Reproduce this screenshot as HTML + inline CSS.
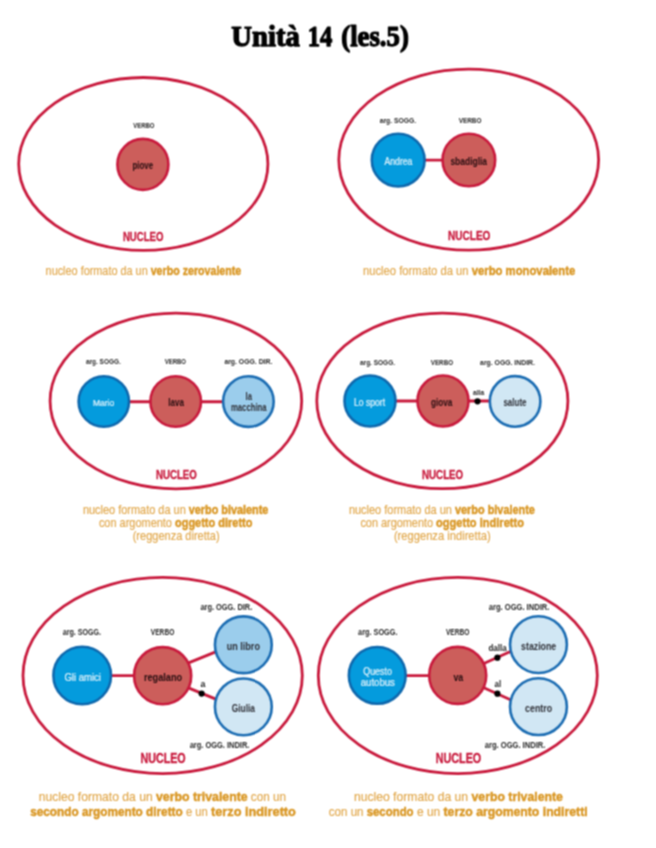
<!DOCTYPE html>
<html lang="it"><head><meta charset="utf-8"><title>Unità 14 (les.5)</title>
<style>
html,body{margin:0;padding:0;background:#fff;}
body{width:656px;height:848px;overflow:hidden;}
svg{display:block;}
</style></head><body>
<svg width="656" height="848" viewBox="0 0 656 848">
<defs><filter id="soft" filterUnits="userSpaceOnUse" x="0" y="0" width="656" height="848" color-interpolation-filters="sRGB"><feConvolveMatrix order="3" kernelMatrix="1 2 1 2 4 2 1 2 1" edgeMode="duplicate"/></filter></defs>
<g filter="url(#soft)">
<rect width="656" height="848" fill="#fff"/>
<text x="231.3" y="45.6" font-family="'Liberation Serif', 'Times New Roman', serif" font-size="28.5" font-weight="bold" fill="#000" textLength="68.5" lengthAdjust="spacingAndGlyphs" stroke="#000" stroke-width="1.25" stroke-linejoin="round">Unità</text>
<text x="307.8" y="45.6" font-family="'Liberation Serif', 'Times New Roman', serif" font-size="28.5" font-weight="bold" fill="#000" textLength="24.5" lengthAdjust="spacingAndGlyphs" stroke="#000" stroke-width="1.25" stroke-linejoin="round">14</text>
<text x="341.3" y="45.6" font-family="'Liberation Serif', 'Times New Roman', serif" font-size="28.5" font-weight="bold" fill="#000" textLength="67.5" lengthAdjust="spacingAndGlyphs" stroke="#000" stroke-width="1.25" stroke-linejoin="round">(les.5)</text>
<ellipse cx="143.3" cy="163.95" rx="124.6" ry="86.45" fill="none" stroke="#c8193c" stroke-width="2.8"/>
<circle cx="142.9" cy="164.4" r="25.50" fill="#cc5e5b" stroke="#c8193c" stroke-width="2.6"/>
<text x="133.2" y="128.0" font-family="'Liberation Sans', Arial, sans-serif" font-size="7.6" font-weight="bold" fill="#262626" textLength="21.3" lengthAdjust="spacingAndGlyphs">VERBO</text>
<text x="132.4" y="169.3" font-family="'Liberation Sans', Arial, sans-serif" font-size="10.2" font-weight="bold" fill="#230c0f" textLength="20.8" lengthAdjust="spacingAndGlyphs">piove</text>
<text x="122.9" y="240.5" font-family="'Liberation Sans', Arial, sans-serif" font-size="12.8" font-weight="bold" fill="#c8193c" textLength="40.5" lengthAdjust="spacingAndGlyphs" stroke="#c8193c" stroke-width="0.35">NUCLEO</text>
<ellipse cx="468.7" cy="159.7" rx="129.9" ry="90.5" fill="none" stroke="#c8193c" stroke-width="2.8"/>
<line x1="398.2" y1="160.1" x2="468.8" y2="160.1" stroke="#c8193c" stroke-width="2.9"/>
<circle cx="398.2" cy="160.1" r="26.40" fill="#049bdd" stroke="#0e68ad" stroke-width="2.6"/>
<circle cx="468.85" cy="160.0" r="26.30" fill="#cc5e5b" stroke="#c8193c" stroke-width="2.6"/>
<text x="379.7" y="122.6" font-family="'Liberation Sans', Arial, sans-serif" font-size="7.6" font-weight="bold" fill="#262626" textLength="36.4" lengthAdjust="spacingAndGlyphs">arg. SOGG.</text>
<text x="458.7" y="122.6" font-family="'Liberation Sans', Arial, sans-serif" font-size="7.6" font-weight="bold" fill="#262626" textLength="22.8" lengthAdjust="spacingAndGlyphs">VERBO</text>
<text x="384.6" y="164.6" font-family="'Liberation Sans', Arial, sans-serif" font-size="10.2" font-weight="normal" fill="#eaf6fc" textLength="27.7" lengthAdjust="spacingAndGlyphs" stroke="#eaf6fc" stroke-width="0.2">Andrea</text>
<text x="450.4" y="164.6" font-family="'Liberation Sans', Arial, sans-serif" font-size="10.2" font-weight="bold" fill="#230c0f" textLength="36.7" lengthAdjust="spacingAndGlyphs">sbadiglia</text>
<text x="448.0" y="240.4" font-family="'Liberation Sans', Arial, sans-serif" font-size="12.8" font-weight="bold" fill="#c8193c" textLength="42.4" lengthAdjust="spacingAndGlyphs" stroke="#c8193c" stroke-width="0.35">NUCLEO</text>
<ellipse cx="175.9" cy="401.0" rx="125.8" ry="87.8" fill="none" stroke="#c8193c" stroke-width="2.8"/>
<line x1="103.8" y1="401.8" x2="248.4" y2="401.8" stroke="#c8193c" stroke-width="2.9"/>
<circle cx="103.8" cy="401.5" r="25.20" fill="#049bdd" stroke="#0e68ad" stroke-width="2.6"/>
<circle cx="175.7" cy="401.5" r="25.30" fill="#cc5e5b" stroke="#c8193c" stroke-width="2.6"/>
<circle cx="248.4" cy="401.6" r="25.30" fill="#9bcdec" stroke="#1b6cb2" stroke-width="2.6"/>
<text x="86.0" y="364.4" font-family="'Liberation Sans', Arial, sans-serif" font-size="7.6" font-weight="bold" fill="#262626" textLength="34.7" lengthAdjust="spacingAndGlyphs">arg. SOGG.</text>
<text x="164.7" y="364.4" font-family="'Liberation Sans', Arial, sans-serif" font-size="7.6" font-weight="bold" fill="#262626" textLength="21.3" lengthAdjust="spacingAndGlyphs">VERBO</text>
<text x="224.4" y="364.4" font-family="'Liberation Sans', Arial, sans-serif" font-size="7.6" font-weight="bold" fill="#262626" textLength="48.0" lengthAdjust="spacingAndGlyphs">arg. OGG. DIR.</text>
<text x="93.0" y="405.8" font-family="'Liberation Sans', Arial, sans-serif" font-size="9.8" font-weight="normal" fill="#eaf6fc" textLength="21.2" lengthAdjust="spacingAndGlyphs" stroke="#eaf6fc" stroke-width="0.2">Mario</text>
<text x="168.3" y="405.8" font-family="'Liberation Sans', Arial, sans-serif" font-size="10.0" font-weight="bold" fill="#230c0f" textLength="15.7" lengthAdjust="spacingAndGlyphs">lava</text>
<text x="245.6" y="399.9" font-family="'Liberation Sans', Arial, sans-serif" font-size="10.2" font-weight="bold" fill="#2e2f36" textLength="6.4" lengthAdjust="spacingAndGlyphs">la</text>
<text x="231.0" y="411.3" font-family="'Liberation Sans', Arial, sans-serif" font-size="10.2" font-weight="bold" fill="#2e2f36" textLength="35.5" lengthAdjust="spacingAndGlyphs">macchina</text>
<text x="156.0" y="478.8" font-family="'Liberation Sans', Arial, sans-serif" font-size="12.8" font-weight="bold" fill="#c8193c" textLength="40.8" lengthAdjust="spacingAndGlyphs" stroke="#c8193c" stroke-width="0.35">NUCLEO</text>
<ellipse cx="442.35" cy="400.95" rx="125.55" ry="87.75" fill="none" stroke="#c8193c" stroke-width="2.8"/>
<line x1="370" y1="401.0" x2="515.1" y2="401.0" stroke="#c8193c" stroke-width="2.9"/>
<circle cx="370" cy="401.0" r="25.50" fill="#049bdd" stroke="#0e68ad" stroke-width="2.6"/>
<circle cx="443" cy="401.0" r="25.50" fill="#cc5e5b" stroke="#c8193c" stroke-width="2.6"/>
<circle cx="515.1" cy="401.4" r="25.30" fill="#d1e7f4" stroke="#1b6cb2" stroke-width="2.6"/>
<circle cx="477.5" cy="401.3" r="3.1" fill="#000"/>
<text x="360.0" y="364.6" font-family="'Liberation Sans', Arial, sans-serif" font-size="7.6" font-weight="bold" fill="#262626" textLength="35.0" lengthAdjust="spacingAndGlyphs">arg. SOGG.</text>
<text x="430.8" y="364.6" font-family="'Liberation Sans', Arial, sans-serif" font-size="7.6" font-weight="bold" fill="#262626" textLength="22.2" lengthAdjust="spacingAndGlyphs">VERBO</text>
<text x="480.1" y="364.6" font-family="'Liberation Sans', Arial, sans-serif" font-size="7.6" font-weight="bold" fill="#262626" textLength="54.8" lengthAdjust="spacingAndGlyphs">arg. OGG. INDIR.</text>
<text x="473.0" y="395.4" font-family="'Liberation Sans', Arial, sans-serif" font-size="7.2" font-weight="bold" fill="#1e1e1e" textLength="11.1" lengthAdjust="spacingAndGlyphs">alla</text>
<text x="354.0" y="405.8" font-family="'Liberation Sans', Arial, sans-serif" font-size="10.2" font-weight="normal" fill="#eaf6fc" textLength="31.1" lengthAdjust="spacingAndGlyphs" stroke="#eaf6fc" stroke-width="0.2">Lo sport</text>
<text x="431.0" y="405.8" font-family="'Liberation Sans', Arial, sans-serif" font-size="10.2" font-weight="bold" fill="#230c0f" textLength="21.4" lengthAdjust="spacingAndGlyphs">giova</text>
<text x="503.4" y="406.2" font-family="'Liberation Sans', Arial, sans-serif" font-size="10.2" font-weight="bold" fill="#2e2f36" textLength="23.2" lengthAdjust="spacingAndGlyphs">salute</text>
<text x="422.1" y="478.8" font-family="'Liberation Sans', Arial, sans-serif" font-size="12.8" font-weight="bold" fill="#c8193c" textLength="41.0" lengthAdjust="spacingAndGlyphs" stroke="#c8193c" stroke-width="0.35">NUCLEO</text>
<ellipse cx="162.65" cy="675.5" rx="139.65" ry="98.1" fill="none" stroke="#c8193c" stroke-width="2.8"/>
<line x1="82.2" y1="675.6" x2="162.65" y2="675.6" stroke="#c8193c" stroke-width="2.9"/>
<line x1="175" y1="668.3" x2="228" y2="646.8" stroke="#c8193c" stroke-width="2.9"/>
<line x1="175" y1="682.3" x2="228" y2="704.2" stroke="#c8193c" stroke-width="2.9"/>
<circle cx="82.2" cy="675.5" r="28.80" fill="#049bdd" stroke="#0e68ad" stroke-width="2.6"/>
<circle cx="162.65" cy="675.7" r="28.55" fill="#cc5e5b" stroke="#c8193c" stroke-width="2.6"/>
<circle cx="243.35" cy="644.75" r="28.40" fill="#9bcdec" stroke="#1b6cb2" stroke-width="2.6"/>
<circle cx="243.35" cy="706.85" r="28.40" fill="#d1e7f4" stroke="#1b6cb2" stroke-width="2.6"/>
<circle cx="201.6" cy="693.6" r="3.1" fill="#000"/>
<text x="62.8" y="634.6" font-family="'Liberation Sans', Arial, sans-serif" font-size="8.6" font-weight="bold" fill="#262626" textLength="38.1" lengthAdjust="spacingAndGlyphs">arg. SOGG.</text>
<text x="150.8" y="634.6" font-family="'Liberation Sans', Arial, sans-serif" font-size="8.6" font-weight="bold" fill="#262626" textLength="23.5" lengthAdjust="spacingAndGlyphs">VERBO</text>
<text x="200.4" y="609.7" font-family="'Liberation Sans', Arial, sans-serif" font-size="8.6" font-weight="bold" fill="#262626" textLength="51.9" lengthAdjust="spacingAndGlyphs">arg. OGG. DIR.</text>
<text x="189.7" y="747.6" font-family="'Liberation Sans', Arial, sans-serif" font-size="8.6" font-weight="bold" fill="#262626" textLength="59.7" lengthAdjust="spacingAndGlyphs">arg. OGG. INDIR.</text>
<text x="200.4" y="687.2" font-family="'Liberation Sans', Arial, sans-serif" font-size="8.8" font-weight="bold" fill="#1e1e1e">a</text>
<text x="64.4" y="680.7" font-family="'Liberation Sans', Arial, sans-serif" font-size="11.2" font-weight="normal" fill="#eaf6fc" textLength="36.6" lengthAdjust="spacingAndGlyphs" stroke="#eaf6fc" stroke-width="0.2">Gli amici</text>
<text x="143.9" y="681.1" font-family="'Liberation Sans', Arial, sans-serif" font-size="11.2" font-weight="bold" fill="#230c0f" textLength="38.2" lengthAdjust="spacingAndGlyphs">regalano</text>
<text x="226.8" y="650.4" font-family="'Liberation Sans', Arial, sans-serif" font-size="11.2" font-weight="bold" fill="#2e2f36" textLength="33.1" lengthAdjust="spacingAndGlyphs">un libro</text>
<text x="231.7" y="711.7" font-family="'Liberation Sans', Arial, sans-serif" font-size="11.2" font-weight="bold" fill="#2e2f36" textLength="23.3" lengthAdjust="spacingAndGlyphs">Giulia</text>
<text x="140.5" y="762.6" font-family="'Liberation Sans', Arial, sans-serif" font-size="13.9" font-weight="bold" fill="#c8193c" textLength="45.2" lengthAdjust="spacingAndGlyphs" stroke="#c8193c" stroke-width="0.35">NUCLEO</text>
<ellipse cx="457.8" cy="675.5" rx="139.5" ry="98.1" fill="none" stroke="#c8193c" stroke-width="2.8"/>
<line x1="377.25" y1="675.6" x2="457.7" y2="675.6" stroke="#c8193c" stroke-width="2.9"/>
<line x1="470" y1="669.8" x2="522" y2="646.3" stroke="#c8193c" stroke-width="2.9"/>
<line x1="470" y1="681.5" x2="522" y2="705.0" stroke="#c8193c" stroke-width="2.9"/>
<circle cx="377.25" cy="675.4" r="28.40" fill="#049bdd" stroke="#0e68ad" stroke-width="2.6"/>
<circle cx="457.7" cy="675.4" r="28.50" fill="#cc5e5b" stroke="#c8193c" stroke-width="2.6"/>
<circle cx="538.45" cy="644.6" r="28.40" fill="#d1e7f4" stroke="#1b6cb2" stroke-width="2.6"/>
<circle cx="538.45" cy="706.65" r="28.40" fill="#d1e7f4" stroke="#1b6cb2" stroke-width="2.6"/>
<circle cx="497.4" cy="657.7" r="3.1" fill="#000"/>
<circle cx="497.4" cy="693.7" r="3.1" fill="#000"/>
<text x="358.1" y="635.0" font-family="'Liberation Sans', Arial, sans-serif" font-size="8.6" font-weight="bold" fill="#262626" textLength="39.4" lengthAdjust="spacingAndGlyphs">arg. SOGG.</text>
<text x="445.9" y="635.0" font-family="'Liberation Sans', Arial, sans-serif" font-size="8.6" font-weight="bold" fill="#262626" textLength="23.6" lengthAdjust="spacingAndGlyphs">VERBO</text>
<text x="488.8" y="610.0" font-family="'Liberation Sans', Arial, sans-serif" font-size="8.6" font-weight="bold" fill="#262626" textLength="60.5" lengthAdjust="spacingAndGlyphs">arg. OGG. INDIR.</text>
<text x="484.8" y="747.6" font-family="'Liberation Sans', Arial, sans-serif" font-size="8.6" font-weight="bold" fill="#262626" textLength="60.5" lengthAdjust="spacingAndGlyphs">arg. OGG. INDIR.</text>
<text x="488.4" y="651.0" font-family="'Liberation Sans', Arial, sans-serif" font-size="8.6" font-weight="bold" fill="#1e1e1e" textLength="18.2" lengthAdjust="spacingAndGlyphs">dalla</text>
<text x="494.6" y="687.0" font-family="'Liberation Sans', Arial, sans-serif" font-size="8.6" font-weight="bold" fill="#1e1e1e" textLength="6.6" lengthAdjust="spacingAndGlyphs">al</text>
<text x="363.2" y="674.8" font-family="'Liberation Sans', Arial, sans-serif" font-size="11.2" font-weight="normal" fill="#eaf6fc" textLength="28.8" lengthAdjust="spacingAndGlyphs" stroke="#eaf6fc" stroke-width="0.2">Questo</text>
<text x="360.7" y="685.7" font-family="'Liberation Sans', Arial, sans-serif" font-size="11.2" font-weight="normal" fill="#eaf6fc" textLength="34.2" lengthAdjust="spacingAndGlyphs" stroke="#eaf6fc" stroke-width="0.2">autobus</text>
<text x="453.4" y="680.9" font-family="'Liberation Sans', Arial, sans-serif" font-size="11.2" font-weight="bold" fill="#230c0f" textLength="9.8" lengthAdjust="spacingAndGlyphs">va</text>
<text x="521.1" y="650.1" font-family="'Liberation Sans', Arial, sans-serif" font-size="11.2" font-weight="bold" fill="#2e2f36" textLength="35.1" lengthAdjust="spacingAndGlyphs">stazione</text>
<text x="525.1" y="712.2" font-family="'Liberation Sans', Arial, sans-serif" font-size="11.2" font-weight="bold" fill="#2e2f36" textLength="27.0" lengthAdjust="spacingAndGlyphs">centro</text>
<text x="435.8" y="762.6" font-family="'Liberation Sans', Arial, sans-serif" font-size="13.9" font-weight="bold" fill="#c8193c" textLength="45.4" lengthAdjust="spacingAndGlyphs" stroke="#c8193c" stroke-width="0.35">NUCLEO</text>
<text y="274.6" font-family="'Liberation Sans', Arial, sans-serif" font-size="12.4"><tspan x="45.6" fill="#e0a546" font-weight="normal" stroke="#e0a546" stroke-width="0.15" textLength="105.1" lengthAdjust="spacingAndGlyphs">nucleo formato da un </tspan><tspan x="150.7" fill="#d99622" font-weight="bold" stroke="#d99622" stroke-width="0.45" textLength="90.6" lengthAdjust="spacingAndGlyphs">verbo zerovalente</tspan></text>
<text y="275.2" font-family="'Liberation Sans', Arial, sans-serif" font-size="12.4"><tspan x="363.0" fill="#e0a546" font-weight="normal" stroke="#e0a546" stroke-width="0.15" textLength="108.7" lengthAdjust="spacingAndGlyphs">nucleo formato da un </tspan><tspan x="471.7" fill="#d99622" font-weight="bold" stroke="#d99622" stroke-width="0.45" textLength="103.6" lengthAdjust="spacingAndGlyphs">verbo monovalente</tspan></text>
<text y="514.0" font-family="'Liberation Sans', Arial, sans-serif" font-size="12.4"><tspan x="82.9" fill="#e0a546" font-weight="normal" stroke="#e0a546" stroke-width="0.15" textLength="105.9" lengthAdjust="spacingAndGlyphs">nucleo formato da un </tspan><tspan x="188.8" fill="#d99622" font-weight="bold" stroke="#d99622" stroke-width="0.45" textLength="79.6" lengthAdjust="spacingAndGlyphs">verbo bivalente</tspan></text>
<text y="527.2" font-family="'Liberation Sans', Arial, sans-serif" font-size="12.4"><tspan x="98.9" fill="#e0a546" font-weight="normal" stroke="#e0a546" stroke-width="0.15" textLength="76.1" lengthAdjust="spacingAndGlyphs">con argomento </tspan><tspan x="175.0" fill="#d99622" font-weight="bold" stroke="#d99622" stroke-width="0.45" textLength="77.4" lengthAdjust="spacingAndGlyphs">oggetto diretto</tspan></text>
<text y="540.4" font-family="'Liberation Sans', Arial, sans-serif" font-size="12.4"><tspan x="132.7" fill="#e0a546" font-weight="normal" stroke="#e0a546" stroke-width="0.15" textLength="86.9" lengthAdjust="spacingAndGlyphs">(reggenza diretta)</tspan></text>
<text y="514.0" font-family="'Liberation Sans', Arial, sans-serif" font-size="12.4"><tspan x="348.9" fill="#e0a546" font-weight="normal" stroke="#e0a546" stroke-width="0.15" textLength="106.1" lengthAdjust="spacingAndGlyphs">nucleo formato da un </tspan><tspan x="455.0" fill="#d99622" font-weight="bold" stroke="#d99622" stroke-width="0.45" textLength="79.9" lengthAdjust="spacingAndGlyphs">verbo bivalente</tspan></text>
<text y="527.2" font-family="'Liberation Sans', Arial, sans-serif" font-size="12.4"><tspan x="360.4" fill="#e0a546" font-weight="normal" stroke="#e0a546" stroke-width="0.15" textLength="75.7" lengthAdjust="spacingAndGlyphs">con argomento </tspan><tspan x="436.1" fill="#d99622" font-weight="bold" stroke="#d99622" stroke-width="0.45" textLength="87.8" lengthAdjust="spacingAndGlyphs">oggetto indiretto</tspan></text>
<text y="540.4" font-family="'Liberation Sans', Arial, sans-serif" font-size="12.4"><tspan x="393.9" fill="#e0a546" font-weight="normal" stroke="#e0a546" stroke-width="0.15" textLength="96.8" lengthAdjust="spacingAndGlyphs">(reggenza indiretta)</tspan></text>
<text y="801.2" font-family="'Liberation Sans', Arial, sans-serif" font-size="13.2"><tspan x="38.8" fill="#e0a546" font-weight="normal" stroke="#e0a546" stroke-width="0.15" textLength="117.2" lengthAdjust="spacingAndGlyphs">nucleo formato da un </tspan><tspan x="156.0" fill="#d99622" font-weight="bold" stroke="#d99622" stroke-width="0.45" textLength="91.6" lengthAdjust="spacingAndGlyphs">verbo trivalente</tspan><tspan x="247.6" fill="#e0a546" font-weight="normal" stroke="#e0a546" stroke-width="0.15" textLength="38.4" lengthAdjust="spacingAndGlyphs"> con un</tspan></text>
<text y="815.7" font-family="'Liberation Sans', Arial, sans-serif" font-size="13.2"><tspan x="30.2" fill="#d99622" font-weight="bold" stroke="#d99622" stroke-width="0.45" textLength="155.8" lengthAdjust="spacingAndGlyphs">secondo argomento diretto </tspan><tspan x="186.0" fill="#e0a546" font-weight="normal" stroke="#e0a546" stroke-width="0.15" textLength="25.0" lengthAdjust="spacingAndGlyphs">e un </tspan><tspan x="211.0" fill="#d99622" font-weight="bold" stroke="#d99622" stroke-width="0.45" textLength="84.9" lengthAdjust="spacingAndGlyphs">terzo indiretto</tspan></text>
<text y="801.2" font-family="'Liberation Sans', Arial, sans-serif" font-size="13.2"><tspan x="353.9" fill="#e0a546" font-weight="normal" stroke="#e0a546" stroke-width="0.15" textLength="117.6" lengthAdjust="spacingAndGlyphs">nucleo formato da un </tspan><tspan x="471.5" fill="#d99622" font-weight="bold" stroke="#d99622" stroke-width="0.45" textLength="91.4" lengthAdjust="spacingAndGlyphs">verbo trivalente</tspan></text>
<text y="815.7" font-family="'Liberation Sans', Arial, sans-serif" font-size="13.2"><tspan x="328.8" fill="#e0a546" font-weight="normal" stroke="#e0a546" stroke-width="0.15" textLength="37.9" lengthAdjust="spacingAndGlyphs">con un </tspan><tspan x="366.7" fill="#d99622" font-weight="bold" stroke="#d99622" stroke-width="0.45" textLength="46.9" lengthAdjust="spacingAndGlyphs">secondo</tspan><tspan x="413.6" fill="#e0a546" font-weight="normal" stroke="#e0a546" stroke-width="0.15" textLength="29.9" lengthAdjust="spacingAndGlyphs"> e un </tspan><tspan x="443.5" fill="#d99622" font-weight="bold" stroke="#d99622" stroke-width="0.45" textLength="144.1" lengthAdjust="spacingAndGlyphs">terzo argomento indiretti</tspan></text>
</g>
</svg>
</body></html>
